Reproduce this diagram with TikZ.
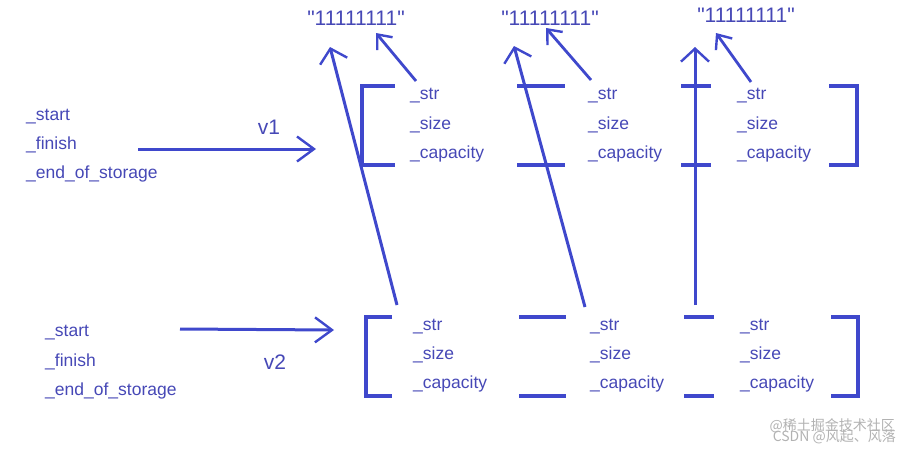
\documentclass[tikz,border=0pt]{standalone}
\usepackage{fontspec}
\setmainfont{Liberation Sans}
\newfontfamily\cjkfont{Noto Sans CJK SC}
\usetikzlibrary{arrows.meta}
\definecolor{ink}{RGB}{63,72,204}
\definecolor{txt}{RGB}{70,72,182}
\font\qfont="Liberation Sans" at 21pt
\newcommand{\qq}{{\qfont\char34}}
\begin{document}
\begin{tikzpicture}[x=1pt,y=-1pt,
  lbl/.style={font=\fontsize{17.5}{20}\selectfont, text=txt, anchor=west, inner sep=0pt},
  big/.style={font=\fontsize{21}{24}\selectfont, text=txt, inner sep=0pt},
  wire/.style={draw=ink, line width=3.3pt},
  ptr/.style={draw=ink, line width=3pt, -{Straight Barb[length=13pt,width=28pt,line width=2.4pt]}},
  sptr/.style={draw=ink, line width=2.8pt, -{Straight Barb[length=12pt,width=20pt,line width=2.4pt]}},
  varr/.style={draw=ink, line width=3pt, -{Straight Barb[length=17pt,width=25pt,line width=2.4pt]}},
  wm/.style={font=\cjkfont\fontsize{14}{16}\selectfont, text=black!30, inner sep=0pt}]
\path[use as bounding box] (0,0) rectangle (916,455);

% left labels
\node[lbl] (s1) at (26,117) {\_start};
\node[lbl] (f1) at (26,145) {\_finish};
\node[lbl] (e1) at (26,174) {\_end\_of\_storage};
\node[big] (v1) at (269,127) {v1};
\coordinate (v1a) at (138,149);
\coordinate (v1b) at (316,149);
\draw[varr] (v1a) -- (v1b);

\node[lbl] (s2) at (45,333) {\_start};
\node[lbl] (f2) at (45,362) {\_finish};
\node[lbl] (e2) at (45,391) {\_end\_of\_storage};
\node[big] (v2) at (275,362) {v2};
\coordinate (v2a) at (180,329);
\coordinate (v2b) at (334,330);
\draw[varr] (v2a) -- (v2b);

% strings
\node[big] (q1) at (356,18) {\qq11111111\qq};
\node[big] (q2) at (550,18) {\qq11111111\qq};
\node[big] (q3) at (746,15) {\qq11111111\qq};

% top boxes
\draw[wire] (395,86) -- (362,86) -- (362,165) -- (395,165);
\draw[wire] (517,86) -- (565,86);
\draw[wire] (517,165) -- (565,165);
\draw[wire] (681,86) -- (711,86);
\draw[wire] (681,165) -- (711,165);
\draw[wire] (829,86) -- (857,86) -- (857,165) -- (829,165);

\foreach \c/\x in {a/410,b/588,c/737}{
  \node[lbl] (t\c1) at (\x,96) {\_str};
  \node[lbl] (t\c2) at (\x,125) {\_size};
  \node[lbl] (t\c3) at (\x,154) {\_capacity};
}

% bottom boxes
\draw[wire] (392,317) -- (366,317) -- (366,396) -- (392,396);
\draw[wire] (519,317) -- (566,317);
\draw[wire] (519,396) -- (566,396);
\draw[wire] (684,317) -- (714,317);
\draw[wire] (684,396) -- (714,396);
\draw[wire] (831,317) -- (858,317) -- (858,396) -- (831,396);

\foreach \c/\x in {a/413,b/590,c/740}{
  \node[lbl] (b\c1) at (\x,327) {\_str};
  \node[lbl] (b\c2) at (\x,355) {\_size};
  \node[lbl] (b\c3) at (\x,384) {\_capacity};
}

% pointers
\coordinate (L1a) at (397,305); \coordinate (L1b) at (330,47);
\coordinate (L2a) at (585,307); \coordinate (L2b) at (514,46);
\coordinate (L3a) at (695,305); \coordinate (L3b) at (695,47);
\draw[ptr] (L1a) -- (L1b);
\draw[ptr] (L2a) -- (L2b);
\draw[ptr] (L3a) -- (L3b);

\coordinate (S1a) at (416,81); \coordinate (S1b) at (376,33);
\coordinate (S2a) at (591,80); \coordinate (S2b) at (546,28);
\coordinate (S3a) at (751,82); \coordinate (S3b) at (716,33);
\draw[sptr] (S1a) -- (S1b);
\draw[sptr] (S2a) -- (S2b);
\draw[sptr] (S3a) -- (S3b);

% watermark
\node[wm, anchor=east] (w1) at (895,426) {@稀土掘金技术社区};
\node[wm, anchor=east] (w2) at (896,437) {CSDN @风起、风落};
\end{tikzpicture}
\end{document}
